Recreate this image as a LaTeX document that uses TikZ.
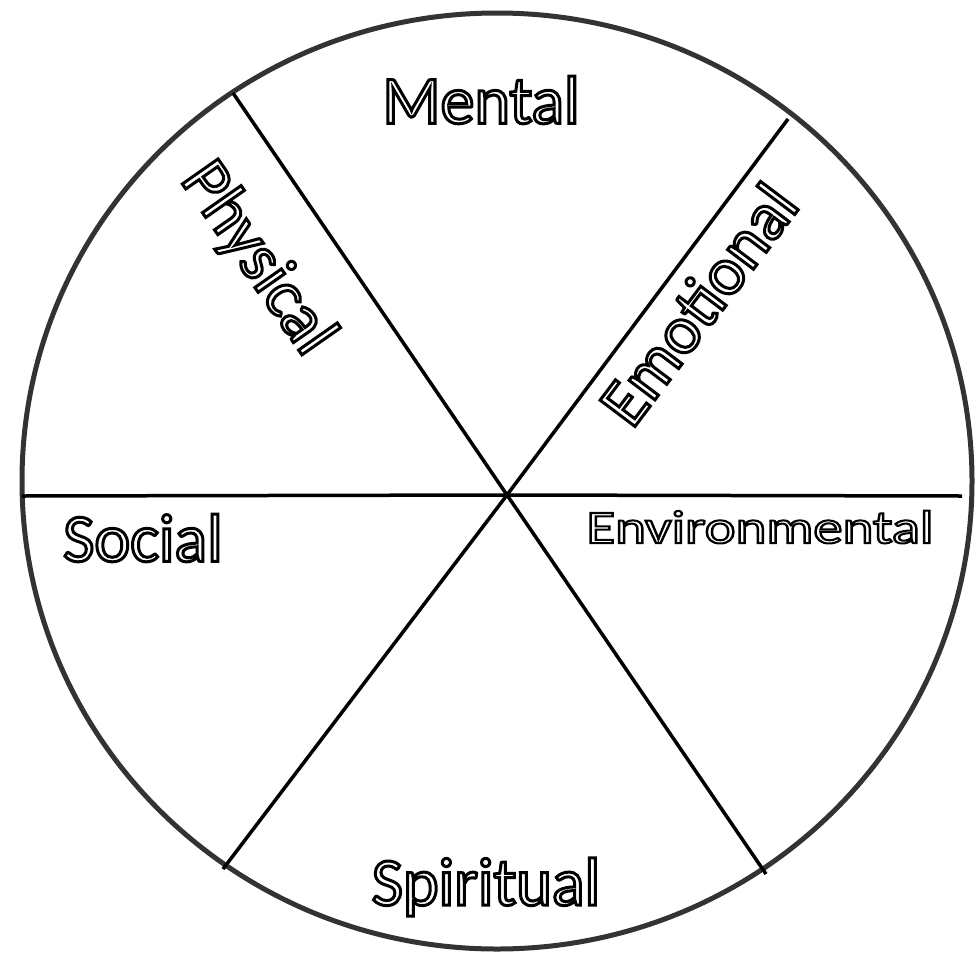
\documentclass[tikz,border=0pt]{standalone}
\usepackage{fontspec}
\setmainfont{Carlito}
\usepackage{graphicx}
\usepackage{tikz}
\definecolor{rimgray}{RGB}{51,51,51}
% outlined lettering: stroke the glyphs, leave the inside white
\newcommand{\hollow}[2][1.5]{\special{pdf:literal direct 1 Tr #1 w 0 G}#2\special{pdf:literal direct 0 Tr}}

\begin{document}
\begin{tikzpicture}[
    x=0.5pt, y=-0.5pt,
    rim/.style={draw=rimgray, line width=2.5pt},
    spoke/.style={draw=black, line width=1.75pt},
    sector/.style={inner sep=0pt, font=\fontsize{34pt}{40pt}\selectfont}
]
\useasboundingbox (0,0) rectangle (980,959);

% wheel
\draw[rim] (497,481) ellipse [x radius=475, y radius=468];

\coordinate (hub) at (507,495);
\coordinate (rimW) at (22,496);
\coordinate (rimE) at (962,496);
\coordinate (rimNW) at (233,93);
\coordinate (rimSE) at (766,874);
\coordinate (rimNE) at (788,119);
\coordinate (rimSW) at (223,869);

\draw[spoke] (rimW) -- (hub) -- (rimE);
\draw[spoke] (rimNW) -- (hub) -- (rimSE);
\draw[spoke] (rimNE) -- (hub) -- (rimSW);

% sector labels
\node[sector] (mental) at (481,100) {\hollow{Mental}};
\node[sector, rotate=-55] (physical) at (257,259) {\hollow{Physical}};
\node[sector, rotate=53] (emotional) at (698,304) {\hollow{Emotional}};
\node[sector] (social) at (143,538) {\hollow{Social}};
\node[sector, font=\fontsize{23.5pt}{28pt}\selectfont] (environmental) at (760,527)
    {\scalebox{1.25}[1]{\hollow[1.0]{Environmental}}};
\node[sector] (spiritual) at (486,887) {\hollow{Spiritual}};
\end{tikzpicture}
\end{document}
